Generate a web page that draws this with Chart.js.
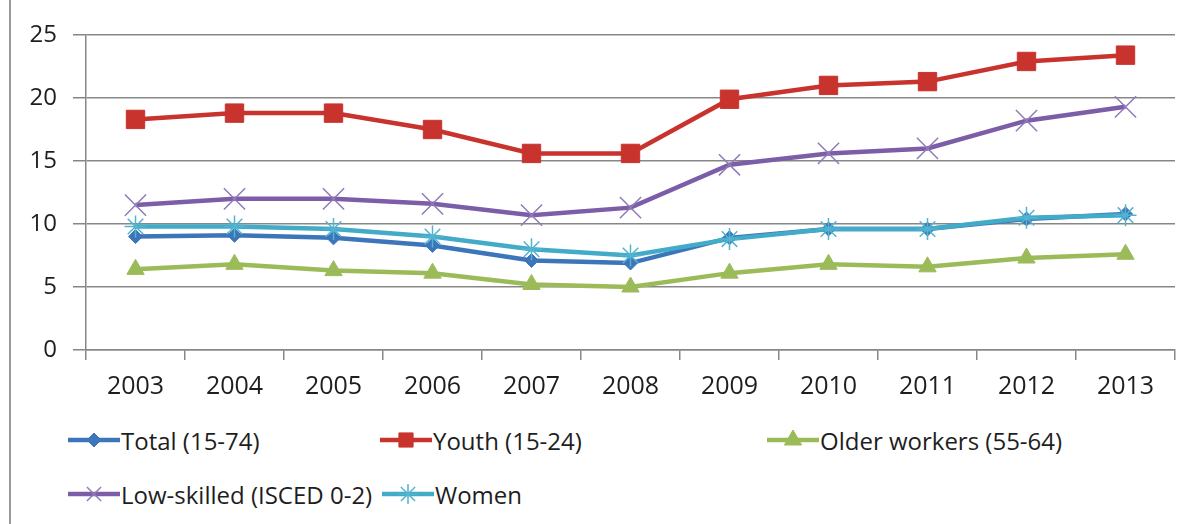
<!DOCTYPE html>
<html>
<head>
<meta charset="utf-8">
<script src="https://cdn.jsdelivr.net/npm/chart.js@4"></script>
<style>
  body { margin: 0; background: #fff; }
  #wrap { position: relative; width: 1196px; height: 524px; font-family: "Open Sans", sans-serif; }
  #edge { position: absolute; left: 9px; top: 0; width: 2px; height: 524px; background: #9a9a9a; }
  #box { position: absolute; left: 0; top: 0; width: 1196px; height: 410px; }
  .item { position: absolute; height: 30px; display: flex; align-items: center; font-size: 24px; color: #1e1e1e; white-space: nowrap; }
  .item canvas { margin-right: 1px; }
</style>
</head>
<body>
<div id="wrap">
  <div id="edge"></div>
  <div id="box"><canvas id="chart"></canvas></div>
</div>
<script>
var years = ["2003", "2004", "2005", "2006", "2007", "2008", "2009", "2010", "2011", "2012", "2013"];
var yTicks = [0, 5, 10, 15, 20, 25];

var total = [9.0, 9.1, 8.9, 8.3, 7.1, 6.9, 8.9, 9.6, 9.6, 10.4, 10.8];
var youth = [18.3, 18.8, 18.8, 17.5, 15.6, 15.6, 19.9, 21.0, 21.3, 22.9, 23.4];
var older = [6.4, 6.8, 6.3, 6.1, 5.2, 5.0, 6.1, 6.8, 6.6, 7.3, 7.6];
var lowSkilled = [11.5, 12.0, 12.0, 11.6, 10.7, 11.3, 14.7, 15.6, 16.0, 18.2, 19.3];
var women = [9.8, 9.8, 9.6, 9.0, 8.0, 7.5, 8.8, 9.6, 9.6, 10.5, 10.7];

var series = [
  { label: "Total (15-74)", data: total, color: "#3c75b9", marker: "#3c75b9", style: "rectRot", r: 7, bw: 1, order: 1, lx: 68, ly: 440 },
  { label: "Youth (15-24)", data: youth, color: "#c9332e", marker: "#c9332e", style: "rect", r: 13, bw: 1, order: 2, lx: 380, ly: 440 },
  { label: "Older workers (55-64)", data: older, color: "#9bbb59", marker: "#9bbb59", style: "triangle", r: 10, bw: 1, order: 3, lx: 767, ly: 440 },
  { label: "Low-skilled (ISCED 0-2)", data: lowSkilled, color: "#7b5ea7", marker: "#8f7bb8", style: "crossRot", r: 15, bw: 1.5, order: 4, lx: 68, ly: 494 },
  { label: "Women", data: women, color: "#42abc8", marker: "#52b4d0", style: "star", r: 11, bw: 1.5, order: 0, lx: 382, ly: 494 },
];

var grid = "#878787";

new Chart(document.getElementById("chart"), {
  type: "line",
  data: {
    labels: years,
    datasets: series.map((s) => ({
      label: s.label,
      data: s.data,
      borderColor: s.color,
      backgroundColor: s.marker,
      borderWidth: 4.5,
      tension: 0,
      order: s.order,
      pointStyle: s.style,
      pointRadius: s.r,
      pointBorderWidth: s.bw,
      pointBorderColor: s.marker,
      pointBackgroundColor: s.marker,
    })),
  },
  options: {
    responsive: true,
    maintainAspectRatio: false,
    animation: false,
    layout: { padding: { top: 35, right: 21, left: 0, bottom: 0 } },
    plugins: { legend: { display: false }, tooltip: { enabled: false } },
    scales: {
      x: {
        offset: true,
        grid: { offset: true, drawOnChartArea: false, color: grid, lineWidth: 1.5, tickLength: 10 },
        border: { color: grid, width: 1.5 },
        ticks: { color: "#1e1e1e", font: { family: "Open Sans", size: 25 }, padding: 12, maxRotation: 0 },
        afterFit: (scale) => { scale.height = 60; },
      },
      y: {
        min: 0,
        max: 25,
        afterBuildTicks: (scale) => { scale.ticks = yTicks.map((v) => ({ value: v })); },
        grid: { color: grid, lineWidth: 1.5, tickLength: 13 },
        border: { color: grid, width: 1.5 },
        ticks: { color: "#1e1e1e", font: { family: "Open Sans", size: 24 }, padding: 16 },
        afterFit: (scale) => { scale.width = 86; },
      },
    },
  },
});

// legend, laid out like the original two-row legend
var wrap = document.getElementById("wrap");
series.forEach((s) => {
  var item = document.createElement("div");
  item.className = "item";
  item.style.left = s.lx + "px";
  item.style.top = (s.ly - 15) + "px";
  var c = document.createElement("canvas");
  c.width = 52;
  c.height = 30;
  var ctx = c.getContext("2d");
  ctx.strokeStyle = s.color;
  ctx.lineWidth = 4.5;
  ctx.beginPath();
  ctx.moveTo(0, 15);
  ctx.lineTo(52, 15);
  ctx.stroke();
  ctx.fillStyle = s.marker;
  ctx.strokeStyle = s.marker;
  ctx.lineWidth = s.bw;
  Chart.helpers.drawPoint(ctx, { pointStyle: s.style, radius: Math.min(s.r, 10), rotation: 0, borderWidth: s.bw }, 26, 15);
  item.appendChild(c);
  var t = document.createElement("span");
  t.textContent = s.label;
  item.appendChild(t);
  wrap.appendChild(item);
});
</script>
</body>
</html>
